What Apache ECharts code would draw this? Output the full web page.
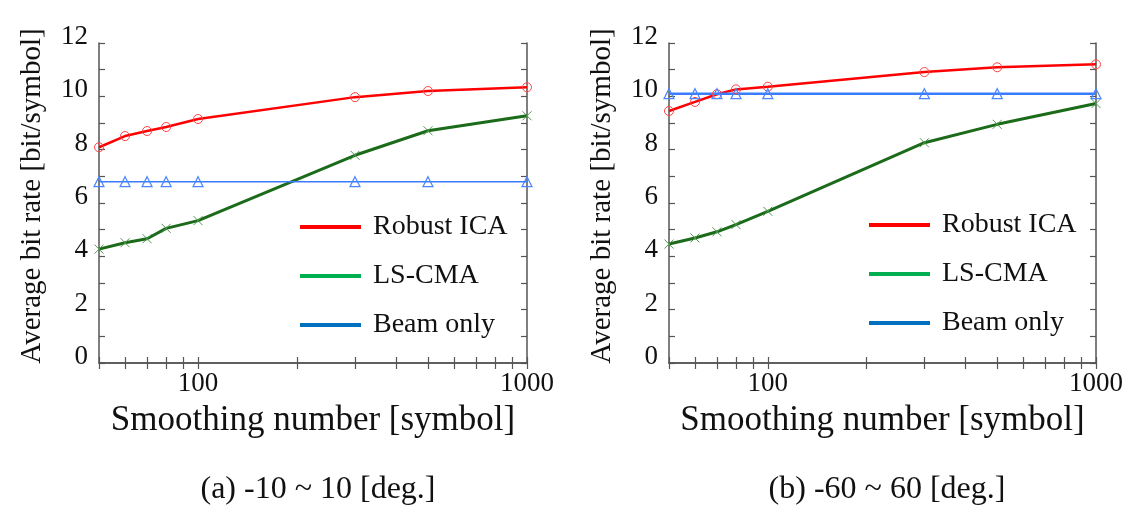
<!DOCTYPE html>
<html>
<head>
<meta charset="utf-8">
<script src="https://cdn.jsdelivr.net/npm/echarts@6/dist/echarts.min.js"></script>
<style>
html,body{margin:0;padding:0;background:#fff;}
#main{width:1133px;height:505px;}
</style>
</head>
<body>
<div id="main"></div>
<script>
// ---- data ----
const smoothing = [50, 60, 70, 80, 100, 300, 500, 1000];
const robustICA_a = [8.09, 8.51, 8.70, 8.85, 9.15, 9.97, 10.20, 10.34];
const lsCMA_a     = [4.27, 4.51, 4.66, 5.05, 5.34, 7.79, 8.71, 9.27];
const beamOnly_a  = [6.80, 6.80, 6.80, 6.80, 6.80, 6.80, 6.80, 6.80];
const robustICA_b = [9.45, 9.79, 10.08, 10.26, 10.36, 10.91, 11.09, 11.20];
const lsCMA_b     = [4.46, 4.69, 4.92, 5.19, 5.69, 8.26, 8.95, 9.73];
const beamOnly_b  = [10.10, 10.10, 10.10, 10.10, 10.10, 10.10, 10.10, 10.10];
const seriesNames = ['Robust ICA', 'LS-CMA', 'Beam only'];
const xTickValues = [50, 60, 70, 80, 90, 100, 200, 300, 400, 500, 600, 700, 800, 900, 1000];
const xLabelValues = [100, 1000];
const captions = ['(a) -10 ~ 10 [deg.]', '(b) -60 ~ 60 [deg.]'];
const xName = 'Smoothing number [symbol]';
const yName = 'Average bit rate [bit/symbol]';

const FONT = "'Liberation Serif', 'DejaVu Serif', serif";
const AXIS_COLOR = '#555';

function pairs(xs, ys) { return xs.map((x, i) => [x, ys[i]]); }

const grids = [
  { left: 99, top: 43, width: 428, height: 320 },
  { left: 669, top: 43, width: 427, height: 320 }
];

function xAxes(gi) {
  const base = {
    type: 'log', logBase: 10, min: 50, max: 1000, gridIndex: gi,
    axisLine: { show: true, lineStyle: { color: AXIS_COLOR, width: 1.5 } },
    axisTick: { show: true, inside: true, length: 6, customValues: xTickValues,
      lineStyle: { color: AXIS_COLOR, width: 1.2 } },
    splitLine: { show: false }, minorTick: { show: false }
  };
  return [
    Object.assign({}, base, {
      position: 'bottom',
      axisLabel: { show: true, customValues: xLabelValues, margin: 7,
        fontFamily: FONT, fontSize: 27, color: '#111',
        formatter: v => String(Math.round(v)) },
      name: xName, nameLocation: 'middle', nameGap: 40,
      nameTextStyle: { fontFamily: FONT, fontSize: 35, color: '#111' }
    }),
    Object.assign({}, base, { position: 'top', axisLabel: { show: false } })
  ];
}

function yAxes(gi) {
  const base = {
    type: 'value', min: 0, max: 12, interval: 1, gridIndex: gi,
    axisLine: { show: true, lineStyle: { color: AXIS_COLOR, width: 1.5 } },
    axisTick: { show: true, inside: true, length: 6, lineStyle: { color: AXIS_COLOR, width: 1.2 } },
    splitLine: { show: false }
  };
  return [
    Object.assign({}, base, {
      position: 'left',
      axisLabel: { show: true, margin: 11, fontFamily: FONT, fontSize: 27, color: '#111',
        verticalAlign: 'bottom', lineHeight: 12,
        formatter: v => (v % 2 === 0 ? String(v) : '') },
      name: yName, nameLocation: 'middle', nameGap: 52, nameRotate: 90,
      nameTextStyle: { fontFamily: FONT, fontSize: 29, color: '#111', padding: [0, 0, 0, 14] }
    }),
    Object.assign({}, base, { position: 'right', axisLabel: { show: false } })
  ];
}

function makeSeries(gi, robust, ls, beam, beamWidth) {
  return [
    {
      name: seriesNames[0], type: 'line', xAxisIndex: gi * 2, yAxisIndex: gi * 2,
      data: pairs(smoothing, robust),
      symbol: 'circle', symbolSize: 9,
      lineStyle: { color: '#ff0000', width: 2.5 },
      itemStyle: { color: 'rgba(0,0,0,0)', borderColor: '#ff4040', borderWidth: 1 },
      emphasis: { disabled: true }
    },
    {
      name: seriesNames[1], type: 'line', xAxisIndex: gi * 2, yAxisIndex: gi * 2,
      data: pairs(smoothing, ls),
      symbol: 'path://M0,0L10,10M10,0L0,10', symbolSize: 9,
      lineStyle: { color: '#1b6b1b', width: 3 },
      itemStyle: { color: 'rgba(0,0,0,0)', borderColor: '#4f9a4f', borderWidth: 1 },
      emphasis: { disabled: true }
    },
    {
      name: seriesNames[2], type: 'line', xAxisIndex: gi * 2, yAxisIndex: gi * 2,
      data: pairs(smoothing, beam),
      symbol: 'triangle', symbolSize: 10,
      lineStyle: { color: '#3a7cff', width: beamWidth },
      itemStyle: { color: 'rgba(0,0,0,0)', borderColor: '#4a86ff', borderWidth: 1.2 },
      emphasis: { disabled: true }
    }
  ];
}

const legendColors = ['#ff0000', '#00b050', '#0070c0'];
function legend(left, top) {
  return {
    orient: 'vertical', left: left, top: top, itemWidth: 61, itemHeight: 4, itemGap: 21,
    selectedMode: false,
    textStyle: { fontFamily: FONT, fontSize: 28, color: '#111', lineHeight: 28, padding: [0, 0, 0, 7] },
    data: seriesNames.map((n, i) => ({ name: n, icon: 'rect', itemStyle: { color: legendColors[i], borderWidth: 0 } }))
  };
}

const chart = echarts.init(document.getElementById('main'), null, { renderer: 'canvas' });
chart.setOption({
  backgroundColor: '#fff',
  animation: false,
  textStyle: { fontFamily: FONT },
  title: [
    { text: captions[0], left: 313, top: 469, textAlign: 'center',
      textStyle: { fontFamily: FONT, fontSize: 32, fontWeight: 'normal', color: '#111' } },
    { text: captions[1], left: 882, top: 469, textAlign: 'center',
      textStyle: { fontFamily: FONT, fontSize: 32, fontWeight: 'normal', color: '#111' } }
  ],
  grid: grids,
  legend: [legend(295, 208), legend(864, 206)],
  xAxis: xAxes(0).concat(xAxes(1)),
  yAxis: yAxes(0).concat(yAxes(1)),
  series: makeSeries(0, robustICA_a, lsCMA_a, beamOnly_a, 1.5)
    .concat(makeSeries(1, robustICA_b, lsCMA_b, beamOnly_b, 2.5))
});
</script>
</body>
</html>
